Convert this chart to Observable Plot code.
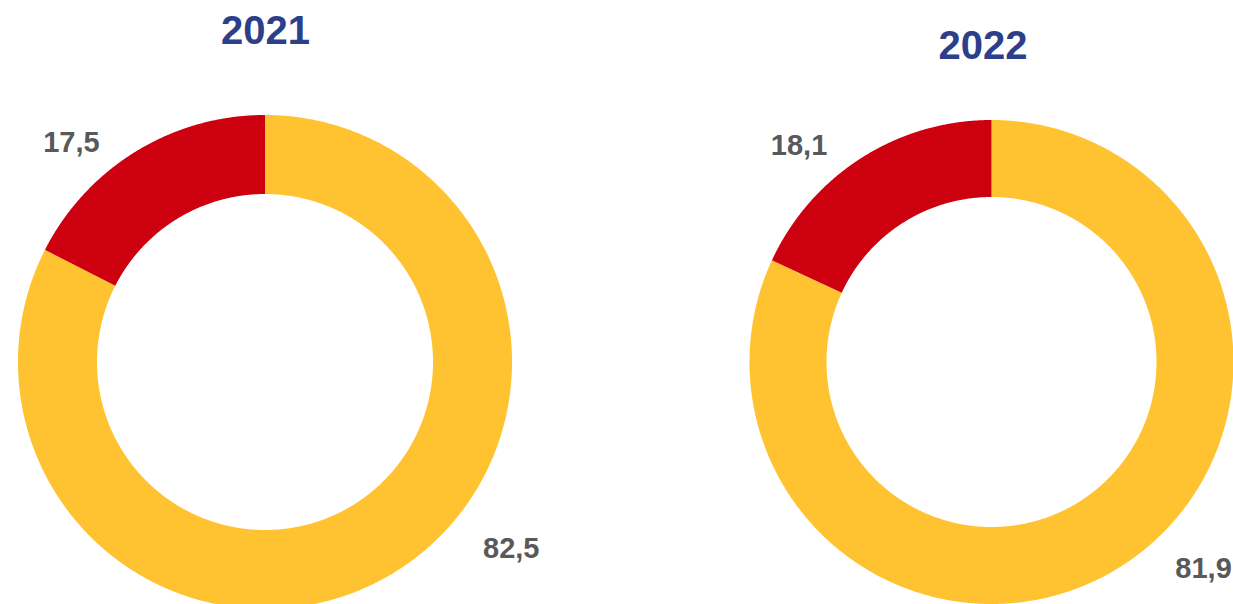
<!DOCTYPE html>
<html>
<head>
<meta charset="utf-8">
<script src="https://cdn.jsdelivr.net/npm/d3@7"></script>
<script src="https://cdn.jsdelivr.net/npm/@observablehq/plot@0.6"></script>
<style>
  html, body { margin: 0; padding: 0; background: #ffffff; }
  #chart svg { display: block; }
</style>
</head>
<body>
<div id="chart"></div>
<script>
// ---- data ----
const years = ["2021", "2022"];
const categories = ["A", "B"];            // drawn clockwise from 12 o'clock
const values2021 = [82.5, 17.5];
const values2022 = [81.9, 18.1];
const seriesValues = [values2021, values2022];
const colors = ["#FFC331", "#CC000E"];

// ---- layout (pixels) ----
const W = 1233, H = 604;
const layout = [
  { cx: 265,   cy: 362, rOuter: 247, rInner: 168, titleY: 43,
    labels: [{ angle: 127.2, dist: 308.5 }, { angle: -41.5, dist: 293 }] },
  { cx: 991.5, cy: 362, rOuter: 242, rInner: 165, titleY: 58,
    labels: [{ angle: 134.3, dist: 295.6 }, { angle: -41.7, dist: 290 }] }
];

const fmt = v => v.toFixed(1).replace(".", ",");
const rad = deg => deg * Math.PI / 180;

// build arc polygons (outer edge / inner edge) from the pie layout
const arcRows = [];
const labelRows = [];
const titleRows = [];
years.forEach((year, yi) => {
  const L = layout[yi];
  const vals = seriesValues[yi];
  const pie = d3.pie().sort(null)(vals);
  pie.forEach((p, ci) => {
    const n = Math.max(2, Math.ceil((p.endAngle - p.startAngle) / rad(0.25)));
    for (let k = 0; k <= n; k++) {
      const a = p.startAngle + (p.endAngle - p.startAngle) * k / n;
      arcRows.push({
        key: year + "-" + categories[ci],
        cat: categories[ci],
        x1: L.cx + L.rOuter * Math.sin(a), y1: L.cy - L.rOuter * Math.cos(a),
        x2: L.cx + L.rInner * Math.sin(a), y2: L.cy - L.rInner * Math.cos(a)
      });
    }
    const lab = L.labels[ci];
    labelRows.push({
      x: L.cx + lab.dist * Math.sin(rad(lab.angle)),
      y: L.cy - lab.dist * Math.cos(rad(lab.angle)),
      text: fmt(vals[ci])
    });
  });
  titleRows.push({ x: L.cx - (yi ? 9 : 0), y: L.titleY, text: year });
});

const chart = Plot.plot({
  width: W,
  height: H,
  margin: 0,
  x: { domain: [0, W], range: [0, W], axis: null },
  y: { domain: [0, H], range: [0, H], axis: null },
  color: { domain: categories, range: colors },
  style: { fontFamily: "'Liberation Sans', Arial, sans-serif", background: "#ffffff" },
  marks: [
    Plot.area(arcRows, { x1: "x1", y1: "y1", x2: "x2", y2: "y2", z: "key", fill: "cat", curve: "linear" }),
    Plot.text(labelRows, { x: "x", y: "y", text: "text", fontSize: 29, fontWeight: "bold",
      fill: "#595959", textAnchor: "middle", lineAnchor: "middle" }),
    Plot.text(titleRows, { x: "x", y: "y", text: "text", fontSize: 40, fontWeight: "bold",
      fill: "#2E3F8A", textAnchor: "middle", lineAnchor: "bottom" })
  ]
});
document.getElementById("chart").appendChild(chart);
</script>
</body>
</html>
